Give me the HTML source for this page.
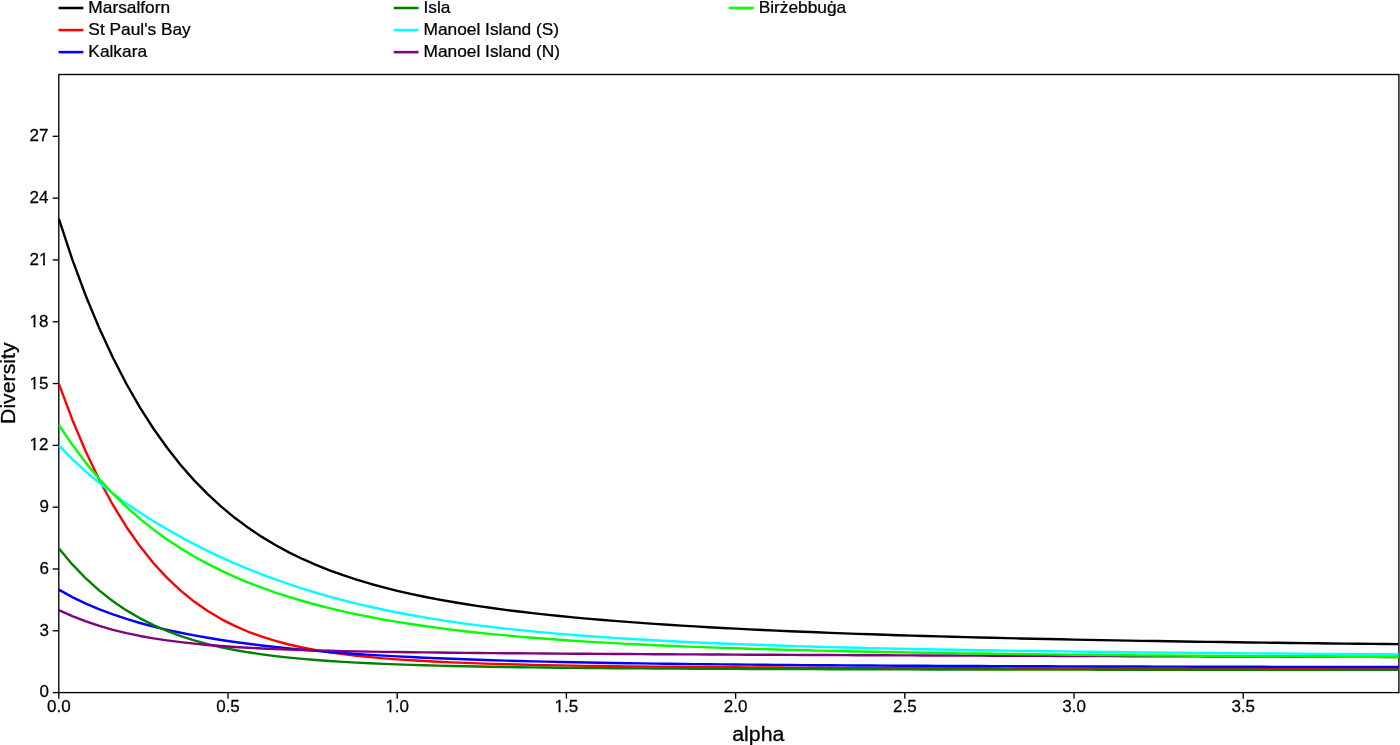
<!DOCTYPE html>
<html lang="en">
<head>
<meta charset="utf-8">
<title>Diversity profiles</title>
<style>
html,body{margin:0;padding:0;background:#fff;}
body{width:1400px;height:745px;overflow:hidden;}
svg{display:block;}
text{font-family:"Liberation Sans", Arial, Helvetica, sans-serif;fill:#000;stroke:#000;stroke-linejoin:round;}
.tick{font-size:17.25px;stroke-width:0.25;}
.leg{font-size:16px;stroke-width:0.25;}
.lab{font-size:19.9px;stroke-width:0.3;}
</style>
</head>
<body>
<svg width="1400" height="745" viewBox="0 0 1400 745">
<rect x="0" y="0" width="1400" height="745" fill="#ffffff"/>
<g id="legend">
<line x1="58.55" y1="8.00" x2="83.35" y2="8.00" stroke="#000000" stroke-width="2.55"/><text class="leg" transform="translate(88.35,13.25) scale(1.083,1)">Marsalforn</text>
<line x1="58.55" y1="30.07" x2="83.35" y2="30.07" stroke="#ff0000" stroke-width="2.55"/><text class="leg" transform="translate(88.35,35.25) scale(1.083,1)">St Paul&#39;s Bay</text>
<line x1="58.55" y1="52.14" x2="83.35" y2="52.14" stroke="#0000ff" stroke-width="2.55"/><text class="leg" transform="translate(88.35,57.25) scale(1.083,1)">Kalkara</text>
<line x1="393.70" y1="8.00" x2="418.50" y2="8.00" stroke="#008000" stroke-width="2.55"/><text class="leg" transform="translate(423.50,13.25) scale(1.083,1)">Isla</text>
<line x1="393.70" y1="30.07" x2="418.50" y2="30.07" stroke="#00ffff" stroke-width="2.55"/><text class="leg" transform="translate(423.50,35.25) scale(1.083,1)">Manoel Island (S)</text>
<line x1="393.70" y1="52.14" x2="418.50" y2="52.14" stroke="#800080" stroke-width="2.55"/><text class="leg" transform="translate(423.50,57.25) scale(1.083,1)">Manoel Island (N)</text>
<line x1="728.85" y1="8.00" x2="753.65" y2="8.00" stroke="#00ff00" stroke-width="2.55"/><text class="leg" transform="translate(758.65,13.25) scale(1.083,1)">Birżebbuġa</text>
</g>
<g id="axes" stroke="#000" stroke-width="1.35" fill="none">
<rect x="58.80" y="74.50" width="1340.10" height="618.10"/>
<line x1="58.80" y1="692.60" x2="58.80" y2="698.70"/><line x1="228.00" y1="692.60" x2="228.00" y2="698.70"/><line x1="397.21" y1="692.60" x2="397.21" y2="698.70"/><line x1="566.41" y1="692.60" x2="566.41" y2="698.70"/><line x1="735.62" y1="692.60" x2="735.62" y2="698.70"/><line x1="904.82" y1="692.60" x2="904.82" y2="698.70"/><line x1="1074.03" y1="692.60" x2="1074.03" y2="698.70"/><line x1="1243.23" y1="692.60" x2="1243.23" y2="698.70"/>
<line x1="52.70" y1="692.60" x2="58.80" y2="692.60"/><line x1="52.70" y1="630.79" x2="58.80" y2="630.79"/><line x1="52.70" y1="568.98" x2="58.80" y2="568.98"/><line x1="52.70" y1="507.17" x2="58.80" y2="507.17"/><line x1="52.70" y1="445.36" x2="58.80" y2="445.36"/><line x1="52.70" y1="383.55" x2="58.80" y2="383.55"/><line x1="52.70" y1="321.74" x2="58.80" y2="321.74"/><line x1="52.70" y1="259.93" x2="58.80" y2="259.93"/><line x1="52.70" y1="198.12" x2="58.80" y2="198.12"/><line x1="52.70" y1="136.31" x2="58.80" y2="136.31"/>
</g>
<defs><clipPath id="plotclip"><rect x="58.50" y="74.50" width="1340.40" height="618.10"/></clipPath></defs>
<g id="curves" clip-path="url(#plotclip)" fill="none" stroke-width="2.4" stroke-linejoin="round" stroke-linecap="butt">
<polyline stroke="#000000" points="58.80,218.72 72.34,259.60 85.87,296.03 99.41,328.60 112.95,357.79 126.48,384.01 140.02,407.57 153.55,428.75 167.09,447.80 180.63,464.94 194.16,480.34 207.70,494.18 221.24,506.63 234.77,517.81 248.31,527.86 261.85,536.89 275.38,545.03 288.92,552.35 302.45,558.96 315.99,564.93 329.53,570.33 343.06,575.22 356.60,579.67 370.14,583.72 383.67,587.41 397.21,590.79 410.75,593.89 424.28,596.73 437.82,599.36 451.35,601.78 464.89,604.03 478.43,606.11 491.96,608.05 505.50,609.86 519.04,611.55 532.57,613.13 546.11,614.62 559.65,616.01 573.18,617.33 586.72,618.57 600.25,619.74 613.79,620.85 627.33,621.90 640.86,622.90 654.40,623.85 667.94,624.75 681.47,625.60 695.01,626.42 708.55,627.20 722.08,627.94 735.62,628.65 749.15,629.33 762.69,629.98 776.23,630.61 789.76,631.20 803.30,631.78 816.84,632.32 830.37,632.85 843.91,633.36 857.45,633.84 870.98,634.31 884.52,634.76 898.05,635.19 911.59,635.61 925.13,636.01 938.66,636.40 952.20,636.77 965.74,637.13 979.27,637.48 992.81,637.81 1006.35,638.13 1019.88,638.45 1033.42,638.75 1046.95,639.04 1060.49,639.32 1074.03,639.59 1087.56,639.85 1101.10,640.11 1114.64,640.36 1128.17,640.59 1141.71,640.83 1155.25,641.05 1168.78,641.27 1182.32,641.48 1195.85,641.68 1209.39,641.88 1222.93,642.07 1236.46,642.26 1250.00,642.44 1263.54,642.62 1277.07,642.79 1290.61,642.96 1304.15,643.12 1317.68,643.27 1331.22,643.43 1344.75,643.58 1358.29,643.72 1371.83,643.86 1385.36,644.00 1398.90,644.13"/>
<polyline stroke="#ff0000" points="58.80,383.55 72.34,419.70 85.87,451.69 99.41,479.99 112.95,504.98 126.48,526.99 140.02,546.32 153.55,563.21 167.09,577.91 180.63,590.64 194.16,601.61 207.70,611.02 221.24,619.07 234.77,625.93 248.31,631.76 261.85,636.71 275.38,640.90 288.92,644.47 302.45,647.49 315.99,650.07 329.53,652.26 343.06,654.14 356.60,655.75 370.14,657.14 383.67,658.34 397.21,659.38 410.75,660.28 424.28,661.07 437.82,661.77 451.35,662.38 464.89,662.92 478.43,663.40 491.96,663.83 505.50,664.21 519.04,664.55 532.57,664.86 546.11,665.14 559.65,665.40 573.18,665.63 586.72,665.84 600.25,666.03 613.79,666.21 627.33,666.37 640.86,666.52 654.40,666.66 667.94,666.79 681.47,666.91 695.01,667.02 708.55,667.12 722.08,667.22 735.62,667.31 749.15,667.39 762.69,667.47 776.23,667.54 789.76,667.61 803.30,667.68 816.84,667.74 830.37,667.80 843.91,667.86 857.45,667.91 870.98,667.96 884.52,668.01 898.05,668.05 911.59,668.10 925.13,668.14 938.66,668.18 952.20,668.21 965.74,668.25 979.27,668.28 992.81,668.32 1006.35,668.35 1019.88,668.38 1033.42,668.40 1046.95,668.43 1060.49,668.46 1074.03,668.48 1087.56,668.51 1101.10,668.53 1114.64,668.55 1128.17,668.58 1141.71,668.60 1155.25,668.62 1168.78,668.64 1182.32,668.66 1195.85,668.67 1209.39,668.69 1222.93,668.71 1236.46,668.72 1250.00,668.74 1263.54,668.76 1277.07,668.77 1290.61,668.79 1304.15,668.80 1317.68,668.81 1331.22,668.83 1344.75,668.84 1358.29,668.85 1371.83,668.86 1385.36,668.88 1398.90,668.89"/>
<polyline stroke="#0000ff" points="58.80,589.58 72.34,597.08 85.87,603.63 99.41,609.38 112.95,614.46 126.48,618.96 140.02,622.98 153.55,626.57 167.09,629.80 180.63,632.72 194.16,635.37 207.70,637.77 221.24,639.96 234.77,641.96 248.31,643.79 261.85,645.47 275.38,647.01 288.92,648.43 302.45,649.73 315.99,650.92 329.53,652.03 343.06,653.04 356.60,653.98 370.14,654.85 383.67,655.64 397.21,656.38 410.75,657.06 424.28,657.69 437.82,658.28 451.35,658.82 464.89,659.32 478.43,659.78 491.96,660.22 505.50,660.62 519.04,660.99 532.57,661.34 546.11,661.66 559.65,661.96 573.18,662.25 586.72,662.51 600.25,662.76 613.79,662.99 627.33,663.21 640.86,663.41 654.40,663.60 667.94,663.78 681.47,663.95 695.01,664.11 708.55,664.26 722.08,664.40 735.62,664.53 749.15,664.66 762.69,664.77 776.23,664.89 789.76,664.99 803.30,665.10 816.84,665.19 830.37,665.28 843.91,665.37 857.45,665.45 870.98,665.53 884.52,665.61 898.05,665.68 911.59,665.75 925.13,665.81 938.66,665.87 952.20,665.93 965.74,665.99 979.27,666.05 992.81,666.10 1006.35,666.15 1019.88,666.20 1033.42,666.24 1046.95,666.29 1060.49,666.33 1074.03,666.37 1087.56,666.41 1101.10,666.45 1114.64,666.49 1128.17,666.52 1141.71,666.56 1155.25,666.59 1168.78,666.62 1182.32,666.65 1195.85,666.68 1209.39,666.71 1222.93,666.74 1236.46,666.77 1250.00,666.79 1263.54,666.82 1277.07,666.84 1290.61,666.87 1304.15,666.89 1317.68,666.91 1331.22,666.93 1344.75,666.96 1358.29,666.98 1371.83,667.00 1385.36,667.02 1398.90,667.04"/>
<polyline stroke="#008000" points="58.80,548.38 72.34,564.45 85.87,578.47 99.41,590.66 112.95,601.24 126.48,610.40 140.02,618.31 153.55,625.12 167.09,630.98 180.63,636.02 194.16,640.34 207.70,644.05 221.24,647.23 234.77,649.97 248.31,652.31 261.85,654.33 275.38,656.08 288.92,657.58 302.45,658.89 315.99,660.02 329.53,661.01 343.06,661.87 356.60,662.63 370.14,663.30 383.67,663.89 397.21,664.41 410.75,664.87 424.28,665.28 437.82,665.65 451.35,665.98 464.89,666.28 478.43,666.54 491.96,666.79 505.50,667.00 519.04,667.20 532.57,667.39 546.11,667.55 559.65,667.70 573.18,667.84 586.72,667.97 600.25,668.09 613.79,668.20 627.33,668.30 640.86,668.39 654.40,668.48 667.94,668.56 681.47,668.64 695.01,668.71 708.55,668.77 722.08,668.83 735.62,668.89 749.15,668.95 762.69,669.00 776.23,669.04 789.76,669.09 803.30,669.13 816.84,669.17 830.37,669.21 843.91,669.25 857.45,669.28 870.98,669.31 884.52,669.34 898.05,669.37 911.59,669.40 925.13,669.43 938.66,669.45 952.20,669.48 965.74,669.50 979.27,669.52 992.81,669.54 1006.35,669.57 1019.88,669.58 1033.42,669.60 1046.95,669.62 1060.49,669.64 1074.03,669.65 1087.56,669.67 1101.10,669.69 1114.64,669.70 1128.17,669.71 1141.71,669.73 1155.25,669.74 1168.78,669.75 1182.32,669.77 1195.85,669.78 1209.39,669.79 1222.93,669.80 1236.46,669.81 1250.00,669.82 1263.54,669.83 1277.07,669.84 1290.61,669.85 1304.15,669.86 1317.68,669.87 1331.22,669.88 1344.75,669.89 1358.29,669.90 1371.83,669.90 1385.36,669.91 1398.90,669.92"/>
<polyline stroke="#00ffff" points="58.80,445.36 72.34,459.11 85.87,471.60 99.41,483.04 112.95,493.61 126.48,503.42 140.02,512.59 153.55,521.20 167.09,529.29 180.63,536.91 194.16,544.11 207.70,550.90 221.24,557.30 234.77,563.34 248.31,569.03 261.85,574.39 275.38,579.42 288.92,584.15 302.45,588.58 315.99,592.73 329.53,596.61 343.06,600.23 356.60,603.62 370.14,606.77 383.67,609.72 397.21,612.46 410.75,615.01 424.28,617.39 437.82,619.61 451.35,621.67 464.89,623.59 478.43,625.38 491.96,627.05 505.50,628.60 519.04,630.05 532.57,631.41 546.11,632.68 559.65,633.86 573.18,634.97 586.72,636.01 600.25,636.98 613.79,637.89 627.33,638.75 640.86,639.56 654.40,640.32 667.94,641.03 681.47,641.70 695.01,642.34 708.55,642.94 722.08,643.51 735.62,644.04 749.15,644.55 762.69,645.03 776.23,645.49 789.76,645.92 803.30,646.33 816.84,646.73 830.37,647.10 843.91,647.45 857.45,647.79 870.98,648.11 884.52,648.42 898.05,648.72 911.59,649.00 925.13,649.27 938.66,649.53 952.20,649.77 965.74,650.01 979.27,650.24 992.81,650.45 1006.35,650.66 1019.88,650.86 1033.42,651.06 1046.95,651.24 1060.49,651.42 1074.03,651.59 1087.56,651.76 1101.10,651.92 1114.64,652.07 1128.17,652.22 1141.71,652.37 1155.25,652.50 1168.78,652.64 1182.32,652.77 1195.85,652.89 1209.39,653.02 1222.93,653.13 1236.46,653.25 1250.00,653.36 1263.54,653.46 1277.07,653.57 1290.61,653.67 1304.15,653.76 1317.68,653.86 1331.22,653.95 1344.75,654.04 1358.29,654.13 1371.83,654.21 1385.36,654.29 1398.90,654.37"/>
<polyline stroke="#800080" points="58.80,610.19 72.34,616.21 85.87,621.43 99.41,625.94 112.95,629.81 126.48,633.12 140.02,635.95 153.55,638.36 167.09,640.42 180.63,642.17 194.16,643.66 207.70,644.94 221.24,646.02 234.77,646.96 248.31,647.76 261.85,648.45 275.38,649.05 288.92,649.57 302.45,650.02 315.99,650.42 329.53,650.77 343.06,651.08 356.60,651.36 370.14,651.61 383.67,651.83 397.21,652.04 410.75,652.22 424.28,652.39 437.82,652.55 451.35,652.70 464.89,652.83 478.43,652.96 491.96,653.08 505.50,653.19 519.04,653.30 532.57,653.41 546.11,653.51 559.65,653.60 573.18,653.69 586.72,653.78 600.25,653.87 613.79,653.95 627.33,654.03 640.86,654.11 654.40,654.19 667.94,654.26 681.47,654.33 695.01,654.41 708.55,654.48 722.08,654.55 735.62,654.61 749.15,654.68 762.69,654.74 776.23,654.81 789.76,654.87 803.30,654.93 816.84,655.00 830.37,655.06 843.91,655.12 857.45,655.18 870.98,655.23 884.52,655.29 898.05,655.35 911.59,655.40 925.13,655.46 938.66,655.51 952.20,655.56 965.74,655.62 979.27,655.67 992.81,655.72 1006.35,655.77 1019.88,655.82 1033.42,655.87 1046.95,655.92 1060.49,655.97 1074.03,656.01 1087.56,656.06 1101.10,656.11 1114.64,656.15 1128.17,656.20 1141.71,656.24 1155.25,656.29 1168.78,656.33 1182.32,656.37 1195.85,656.41 1209.39,656.46 1222.93,656.50 1236.46,656.54 1250.00,656.58 1263.54,656.62 1277.07,656.66 1290.61,656.69 1304.15,656.73 1317.68,656.77 1331.22,656.81 1344.75,656.84 1358.29,656.88 1371.83,656.92 1385.36,656.95 1398.90,656.99"/>
<polyline stroke="#00ff00" points="58.80,424.76 72.34,444.83 85.87,462.86 99.41,479.09 112.95,493.71 126.48,506.91 140.02,518.83 153.55,529.64 167.09,539.44 180.63,548.35 194.16,556.47 207.70,563.88 221.24,570.65 234.77,576.85 248.31,582.53 261.85,587.74 275.38,592.54 288.92,596.95 302.45,601.01 315.99,604.75 329.53,608.20 343.06,611.38 356.60,614.32 370.14,617.04 383.67,619.56 397.21,621.89 410.75,624.05 424.28,626.05 437.82,627.91 451.35,629.63 464.89,631.24 478.43,632.73 491.96,634.12 505.50,635.41 519.04,636.62 532.57,637.75 546.11,638.81 559.65,639.79 573.18,640.72 586.72,641.58 600.25,642.40 613.79,643.16 627.33,643.88 640.86,644.55 654.40,645.19 667.94,645.79 681.47,646.35 695.01,646.88 708.55,647.39 722.08,647.87 735.62,648.32 749.15,648.74 762.69,649.15 776.23,649.53 789.76,649.90 803.30,650.25 816.84,650.58 830.37,650.89 843.91,651.19 857.45,651.48 870.98,651.75 884.52,652.01 898.05,652.26 911.59,652.49 925.13,652.72 938.66,652.94 952.20,653.15 965.74,653.35 979.27,653.54 992.81,653.72 1006.35,653.90 1019.88,654.07 1033.42,654.23 1046.95,654.38 1060.49,654.53 1074.03,654.68 1087.56,654.82 1101.10,654.95 1114.64,655.08 1128.17,655.21 1141.71,655.33 1155.25,655.44 1168.78,655.55 1182.32,655.66 1195.85,655.77 1209.39,655.87 1222.93,655.97 1236.46,656.06 1250.00,656.15 1263.54,656.24 1277.07,656.33 1290.61,656.41 1304.15,656.50 1317.68,656.57 1331.22,656.65 1344.75,656.72 1358.29,656.80 1371.83,656.87 1385.36,656.94 1398.90,657.00"/>
</g>
<g id="xticks">
<text class="tick" transform="translate(58.80,712.25) scale(0.985,1)" text-anchor="middle">0.0</text><text class="tick" transform="translate(228.00,712.25) scale(0.985,1)" text-anchor="middle">0.5</text><text class="tick" transform="translate(397.21,712.25) scale(0.985,1)" text-anchor="middle">1.0</text><text class="tick" transform="translate(566.41,712.25) scale(0.985,1)" text-anchor="middle">1.5</text><text class="tick" transform="translate(735.62,712.25) scale(0.985,1)" text-anchor="middle">2.0</text><text class="tick" transform="translate(904.82,712.25) scale(0.985,1)" text-anchor="middle">2.5</text><text class="tick" transform="translate(1074.03,712.25) scale(0.985,1)" text-anchor="middle">3.0</text><text class="tick" transform="translate(1243.23,712.25) scale(0.985,1)" text-anchor="middle">3.5</text>
</g>
<g id="yticks">
<text class="tick" transform="translate(48.90,697.20) scale(0.985,1)" text-anchor="end">0</text><text class="tick" transform="translate(48.90,635.89) scale(0.985,1)" text-anchor="end">3</text><text class="tick" transform="translate(48.90,574.08) scale(0.985,1)" text-anchor="end">6</text><text class="tick" transform="translate(48.90,512.27) scale(0.985,1)" text-anchor="end">9</text><text class="tick" transform="translate(48.40,450.46) scale(0.985,1)" text-anchor="end">12</text><text class="tick" transform="translate(48.40,388.65) scale(0.985,1)" text-anchor="end">15</text><text class="tick" transform="translate(48.40,326.84) scale(0.985,1)" text-anchor="end">18</text><text class="tick" transform="translate(48.40,265.03) scale(0.985,1)" text-anchor="end">21</text><text class="tick" transform="translate(48.40,203.22) scale(0.985,1)" text-anchor="end">24</text><text class="tick" transform="translate(48.40,141.41) scale(0.985,1)" text-anchor="end">27</text>
</g>
<g id="digit-masks"><rect x="385.50" y="709.80" width="3.90" height="4.0" fill="#fff"/><rect x="391.40" y="709.80" width="3.40" height="4.0" fill="#fff"/><rect x="554.70" y="709.80" width="3.90" height="4.0" fill="#fff"/><rect x="560.60" y="709.80" width="3.40" height="4.0" fill="#fff"/><rect x="29.61" y="448.01" width="3.90" height="4.0" fill="#fff"/><rect x="35.51" y="448.01" width="3.40" height="4.0" fill="#fff"/><rect x="29.61" y="386.20" width="3.90" height="4.0" fill="#fff"/><rect x="35.51" y="386.20" width="3.40" height="4.0" fill="#fff"/><rect x="29.61" y="324.39" width="3.90" height="4.0" fill="#fff"/><rect x="35.51" y="324.39" width="3.40" height="4.0" fill="#fff"/><rect x="39.05" y="262.58" width="3.90" height="4.0" fill="#fff"/><rect x="44.95" y="262.58" width="3.40" height="4.0" fill="#fff"/></g>
<text class="lab" transform="translate(758.30,740.70) scale(1.07,1)" text-anchor="middle">alpha</text>
<text class="lab" transform="translate(14.70,383.20) rotate(-90) scale(1.07,1)" text-anchor="middle">Diversity</text>
</svg>
</body>
</html>
